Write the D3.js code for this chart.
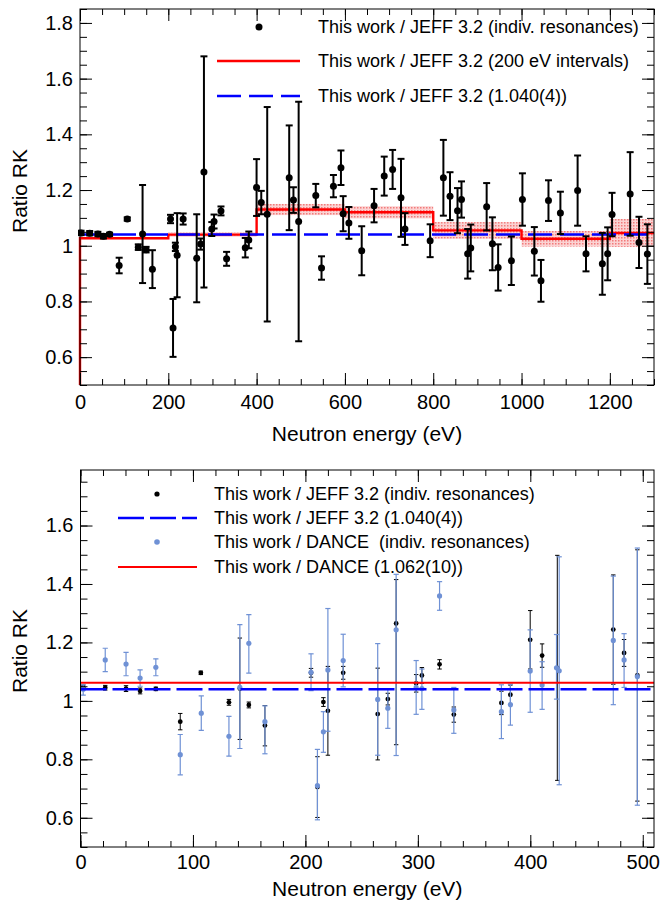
<!DOCTYPE html>
<html>
<head>
<meta charset="utf-8">
<script src="https://cdn.jsdelivr.net/npm/d3@7"></script>
<style>
  body { margin: 0; background: #fff; }
  text { font-family: "Liberation Sans", Arial, Helvetica, sans-serif; fill: #000; }
</style>
</head>
<body>
<svg id="chart" width="663" height="906"></svg>
<script>
// ----- Data: top panel, individual resonances (This work / JEFF 3.2) -----
const topEnergy = [2.4, 22, 40.5, 53, 67, 88.7, 107, 132, 141.7, 149.7,
                   164, 205, 210.7, 216, 220, 233.6, 264.3, 273.3, 280.7, 298.5,
                   303.6, 319.3, 332, 374.3, 382.3, 399.9, 410.5, 424, 473.8, 483.4,
                   495.2, 534, 547, 574, 591, 596, 609, 638, 666, 689,
                   708, 727, 736, 793, 823, 838, 855, 864, 878, 885,
                   921, 934, 947, 977, 1002, 1029, 1044, 1061, 1088, 1127,
                   1146, 1183, 1195, 1205, 1246, 1266, 1285]
const topRatio = [1.046, 1.045, 1.042, 1.034, 1.041, 0.929, 1.096, 0.995, 1.042, 0.986,
                  0.916, 1.096, 0.705, 0.996, 0.966, 1.096, 0.955, 1.006, 1.265, 1.06,
                  1.087, 1.125, 0.953, 0.993, 1.021, 1.209, 1.155, 1.113, 1.244, 1.164,
                  1.087, 1.18, 0.92, 1.214, 1.28, 1.115, 1.082, 0.982, 1.144, 1.25,
                  1.274, 1.172, 1.06, 1.018, 1.244, 1.178, 1.126, 1.166, 0.971, 0.992,
                  1.14, 1.007, 0.922, 0.946, 1.166, 0.98, 0.874, 1.162, 1.118, 1.198,
                  0.971, 0.935, 0.971, 1.112, 1.186, 1.012, 0.97]
const topError = [0.008, 0.008, 0.008, 0.008, 0.006, 0.028, 0.006, 0.01, 0.176, 0.01,
                  0.068, 0.015, 0.104, 0.015, 0.151, 0.02, 0.158, 0.02, 0.415, 0.025,
                  0.025, 0.016, 0.025, 0.035, 0.03, 0.102, 0.042, 0.385, 0.188, 0.046,
                  0.43, 0.042, 0.042, 0.04, 0.062, 0.063, 0.057, 0.088, 0.06, 0.07,
                  0.07, 0.14, 0.057, 0.059, 0.136, 0.086, 0.081, 0.065, 0.089, 0.084,
                  0.085, 0.095, 0.083, 0.087, 0.094, 0.087, 0.075, 0.073, 0.076, 0.126,
                  0.063, 0.111, 0.095, 0.078, 0.15, 0.092, 0.107]

// 200 eV intervals (histogram) with uncertainty band
const binEdges = [0, 200, 400, 600, 800, 1000, 1200, 1300]
const binRatio = [1.027, 1.04, 1.13, 1.12, 1.055, 1.025, 1.046]
const binError = [0.004, 0.008, 0.02, 0.022, 0.03, 0.028, 0.05]

const jeffAverage = 1.040
const danceAverage = 1.062

// ----- Data: bottom panel -----
// JEFF points below 510 eV reuse topEnergy / topRatio, errors
const jeffErrLow  = [0.008, 0.008, 0.01, 0.01, 0.006, 0.028, 0.006, 0.01, 0.174, 0.01,
                     0.07, 0.015, 0.104, 0.015, 0.152, 0.022, 0.157, 0.02, 0.415, 0.03,
                     0.027, 0.016, 0.026, 0.04, 0.033, 0.1, 0.04, 0.385, 0.187, 0.046,
                     0.43]
const jeffErrHigh = [0.008, 0.008, 0.01, 0.01, 0.006, 0.028, 0.006, 0.01, 0.173, 0.01,
                     0.068, 0.015, 0.104, 0.015, 0.152, 0.022, 0.157, 0.02, 0.15, 0.03,
                     0.027, 0.016, 0.026, 0.04, 0.033, 0.1, 0.04, 0.385, 0.187, 0.046,
                     0.43]

const danceEnergy = [2.4, 22, 40.5, 53, 67, 88.7, 107.4, 132, 141.7, 149.7,
                     164, 205, 210.7, 216, 220, 233.6, 264.3, 273.3, 280.7, 298.5,
                     303.6, 319.3, 332, 374.3, 382.3, 399.9, 410.5, 423.3, 425.7, 473.8,
                     483.4, 495.2]
const danceRatio = [1.040, 1.140, 1.126, 1.078, 1.115, 0.816, 0.958, 0.879, 1.046, 1.197,
                    0.929, 1.098, 0.710, 0.894, 1.106, 1.138, 1.005, 0.975, 1.243, 1.046,
                    1.042, 1.359, 0.969, 0.963, 0.987, 1.102, 1.054, 1.113, 1.103, 1.207,
                    1.140, 1.083]
const danceErrLow  = [0.02, 0.04, 0.04, 0.028, 0.029, 0.069, 0.059, 0.068, 0.209, 0.102,
                      0.11, 0.063, 0.117, 0.07, 0.21, 0.09, 0.191, 0.069, 0.43, 0.092,
                      0.071, 0.049, 0.08, 0.092, 0.07, 0.141, 0.083, 0.107, 0.39, 0.22,
                      0.094, 0.44]
const danceErrHigh = [0.015, 0.04, 0.04, 0.028, 0.029, 0.069, 0.059, 0.068, 0.215, 0.098,
                      0.054, 0.063, 0.124, 0.069, 0.21, 0.09, 0.191, 0.065, 0.19, 0.092,
                      0.067, 0.049, 0.077, 0.092, 0.07, 0.141, 0.08, 0.114, 0.39, 0.22,
                      0.09, 0.44]

const topLegend = ['This work / JEFF 3.2 (indiv. resonances)',
                   'This work / JEFF 3.2 (200 eV intervals)',
                   'This work / JEFF 3.2 (1.040(4))']
const bottomLegend = ['This work / JEFF 3.2 (indiv. resonances)',
                      'This work / JEFF 3.2 (1.040(4))',
                      'This work / DANCE  (indiv. resonances)',
                      'This work / DANCE (1.062(10))']

const danceColor = '#6f91d5'
const jeffLineColor = '#0000ff'
const red = '#ff0000'
const fontSize = 20
const titleSize = 21
const legendSize = 18

const svg = d3.select('#chart')
const defs = svg.append('defs')

// pink dotted fill used by ROOT for the error band
const pat = defs.append('pattern').attr('id', 'band').attr('width', 3).attr('height', 3)
                .attr('patternUnits', 'userSpaceOnUse')
pat.append('rect').attr('width', 3).attr('height', 3).attr('fill', '#fbd3d3')
pat.append('rect').attr('width', 1.5).attr('height', 1.5).attr('fill', '#f27a7a')

// ----- frame + axes -----
function range(a, b, step) {
    let out = []
    for (let v = a; v <= b + 1e-9; v += step) out.push(+v.toFixed(4))
    return out
}

function drawAxes(g, x, y, xMajor, xMinor, yMajor, yMinor, labelPad) {
    let [x0, x1] = x.range()
    let [y0, y1] = y.range()   // y0 bottom, y1 top

    function style(sel) {
        sel.select('.domain').remove()
        sel.selectAll('line').attr('stroke', '#000').attr('stroke-width', 1)
        sel.selectAll('text').attr('font-size', fontSize).attr('fill', '#000')
    }

    g.append('g').attr('transform', 'translate(0,' + y0 + ')')
     .call(d3.axisBottom(x).tickValues(xMajor).tickSize(-12).tickPadding(labelPad)
             .tickFormat(d3.format('d')))
     .call(style)
    g.append('g').attr('transform', 'translate(0,' + y0 + ')')
     .call(d3.axisBottom(x).tickValues(xMinor).tickSize(-6).tickFormat(''))
     .call(style)
    g.append('g').attr('transform', 'translate(0,' + y1 + ')')
     .call(d3.axisTop(x).tickValues(xMajor).tickSize(-12).tickFormat(''))
     .call(style)
    g.append('g').attr('transform', 'translate(0,' + y1 + ')')
     .call(d3.axisTop(x).tickValues(xMinor).tickSize(-6).tickFormat(''))
     .call(style)

    g.append('g').attr('transform', 'translate(' + x0 + ',0)')
     .call(d3.axisLeft(y).tickValues(yMajor).tickSize(-12).tickPadding(7)
             .tickFormat(d => String(+d.toFixed(1))))
     .call(style)
    g.append('g').attr('transform', 'translate(' + x0 + ',0)')
     .call(d3.axisLeft(y).tickValues(yMinor).tickSize(-7).tickFormat(''))
     .call(style)
    g.append('g').attr('transform', 'translate(' + x1 + ',0)')
     .call(d3.axisRight(y).tickValues(yMajor).tickSize(-12).tickFormat(''))
     .call(style)
    g.append('g').attr('transform', 'translate(' + x1 + ',0)')
     .call(d3.axisRight(y).tickValues(yMinor).tickSize(-7).tickFormat(''))
     .call(style)

    g.append('rect')
     .attr('x', x0).attr('y', y1)
     .attr('width', x1 - x0).attr('height', y0 - y1)
     .attr('fill', 'none').attr('stroke', '#000').attr('stroke-width', 1)
}

function axisTitles(g, x, y, titleY, yTitleCenter) {
    let [x0, x1] = x.range()
    g.append('text')
     .attr('x', (x0 + x1) / 2).attr('y', titleY)
     .attr('text-anchor', 'middle').attr('font-size', titleSize)
     .text('Neutron energy (eV)')
    g.append('text')
     .attr('transform', 'translate(27,' + yTitleCenter + ') rotate(-90)')
     .attr('text-anchor', 'middle').attr('font-size', titleSize)
     .text('Ratio RK')
}

function errorBars(g, x, y, en, val, lo, hi, color, width, cap, r) {
    let idx = d3.range(en.length)
    g.selectAll(null).data(idx).enter().append('line')
     .attr('x1', i => x(en[i])).attr('x2', i => x(en[i]))
     .attr('y1', i => y(val[i] - lo[i])).attr('y2', i => y(val[i] + hi[i]))
     .attr('stroke', color).attr('stroke-width', width)
    for (let end of [-1, 1]) {
        g.selectAll(null).data(idx).enter().append('line')
         .attr('x1', i => x(en[i]) - cap).attr('x2', i => x(en[i]) + cap)
         .attr('y1', i => y(end < 0 ? val[i] - lo[i] : val[i] + hi[i]))
         .attr('y2', i => y(end < 0 ? val[i] - lo[i] : val[i] + hi[i]))
         .attr('stroke', color).attr('stroke-width', width)
    }
    g.selectAll(null).data(idx).enter().append('circle')
     .attr('cx', i => x(en[i])).attr('cy', i => y(val[i]))
     .attr('r', r).attr('fill', color)
}

// ===== Top panel =====
let xTop = d3.scaleLinear().domain([0, 1300]).range([80, 654])
let yTop = d3.scaleLinear().domain([0.5, 1.85]).range([385, 9])
let gTop = svg.append('g')

defs.append('clipPath').attr('id', 'clipTop').append('rect')
    .attr('x', 78).attr('y', 9).attr('width', 576).attr('height', 376)
let plotTop = gTop.append('g').attr('clip-path', 'url(#clipTop)')

// uncertainty band of the 200 eV intervals
plotTop.selectAll(null).data(binRatio).enter().append('rect')
       .attr('x', (d, i) => xTop(binEdges[i]))
       .attr('width', (d, i) => xTop(binEdges[i + 1]) - xTop(binEdges[i]))
       .attr('y', (d, i) => yTop(d + binError[i]))
       .attr('height', (d, i) => yTop(d - binError[i]) - yTop(d + binError[i]))
       .attr('fill', 'url(#band)')

// step line
let stepPts = [[binEdges[0], 0.5]]
binRatio.forEach((d, i) => { stepPts.push([binEdges[i], d]); stepPts.push([binEdges[i + 1], d]) })
plotTop.append('path')
       .attr('d', d3.line().x(p => xTop(p[0])).y(p => yTop(p[1]))(stepPts))
       .attr('fill', 'none').attr('stroke', red).attr('stroke-width', 2.4)

plotTop.append('line')
       .attr('x1', xTop(0)).attr('x2', xTop(1300))
       .attr('y1', yTop(jeffAverage)).attr('y2', yTop(jeffAverage))
       .attr('stroke', jeffLineColor).attr('stroke-width', 2.5).attr('stroke-dasharray', '24,8')

errorBars(plotTop, xTop, yTop, topEnergy, topRatio, topError, topError, '#000', 2, 3.5, 3.5)

drawAxes(gTop, xTop, yTop, range(0, 1200, 200), range(0, 1300, 50),
         range(0.6, 1.8, 0.2), range(0.5, 1.85, 0.05), 10)
axisTitles(gTop, xTop, yTop, 441, 191)

// top legend
let legTop = gTop.append('g')
legTop.append('circle').attr('cx', 259).attr('cy', 27).attr('r', 3.5).attr('fill', '#000')
legTop.append('line').attr('x1', 217).attr('x2', 300).attr('y1', 61).attr('y2', 61)
      .attr('stroke', red).attr('stroke-width', 2.4)
legTop.append('line').attr('x1', 217).attr('x2', 300).attr('y1', 96).attr('y2', 96)
      .attr('stroke', jeffLineColor).attr('stroke-width', 2.5).attr('stroke-dasharray', '24,8')
legTop.selectAll(null).data(topLegend).enter().append('text')
      .attr('x', 318).attr('y', (d, i) => [27, 61, 96][i])
      .attr('dy', '0.35em').attr('font-size', legendSize)
      .text(d => d)

// ===== Bottom panel =====
let xBot = d3.scaleLinear().domain([0, 510]).range([80.5, 654])
let yBot = d3.scaleLinear().domain([0.5, 1.79]).range([847, 470])
let gBot = svg.append('g')

defs.append('clipPath').attr('id', 'clipBot').append('rect')
    .attr('x', 80.5).attr('y', 470).attr('width', 573.5).attr('height', 377)
let plotBot = gBot.append('g').attr('clip-path', 'url(#clipBot)')

let nLow = jeffErrLow.length
errorBars(plotBot, xBot, yBot, topEnergy.slice(0, nLow), topRatio.slice(0, nLow),
          jeffErrLow, jeffErrHigh, '#000', 1, 2.2, 2.4)
errorBars(plotBot, xBot, yBot, danceEnergy, danceRatio, danceErrLow, danceErrHigh,
          danceColor, 1.2, 2.6, 2.6)

plotBot.append('line')
       .attr('x1', xBot(0)).attr('x2', xBot(510))
       .attr('y1', yBot(danceAverage)).attr('y2', yBot(danceAverage))
       .attr('stroke', red).attr('stroke-width', 2.2)
plotBot.append('line')
       .attr('x1', xBot(0)).attr('x2', xBot(510))
       .attr('y1', yBot(jeffAverage)).attr('y2', yBot(jeffAverage))
       .attr('stroke', jeffLineColor).attr('stroke-width', 2.5).attr('stroke-dasharray', '26,6')

drawAxes(gBot, xBot, yBot, range(0, 500, 100), range(0, 500, 20),
         range(0.6, 1.6, 0.2), range(0.5, 1.75, 0.05), 8)
axisTitles(gBot, xBot, yBot, 896, 651)

// bottom legend
let legBot = gBot.append('g')
legBot.append('circle').attr('cx', 157).attr('cy', 494).attr('r', 2.6).attr('fill', '#000')
legBot.append('line').attr('x1', 118).attr('x2', 197).attr('y1', 518).attr('y2', 518)
      .attr('stroke', jeffLineColor).attr('stroke-width', 2.5).attr('stroke-dasharray', '26,6')
legBot.append('circle').attr('cx', 157).attr('cy', 542).attr('r', 2.8).attr('fill', danceColor)
legBot.append('line').attr('x1', 118).attr('x2', 197).attr('y1', 567).attr('y2', 567)
      .attr('stroke', red).attr('stroke-width', 2.2)
legBot.selectAll(null).data(bottomLegend).enter().append('text')
      .attr('x', 214).attr('y', (d, i) => [494, 518, 542, 567][i])
      .attr('dy', '0.35em').attr('font-size', legendSize)
      .attr('xml:space', 'preserve').style('white-space', 'pre')
      .text(d => d)
</script>
</body>
</html>
